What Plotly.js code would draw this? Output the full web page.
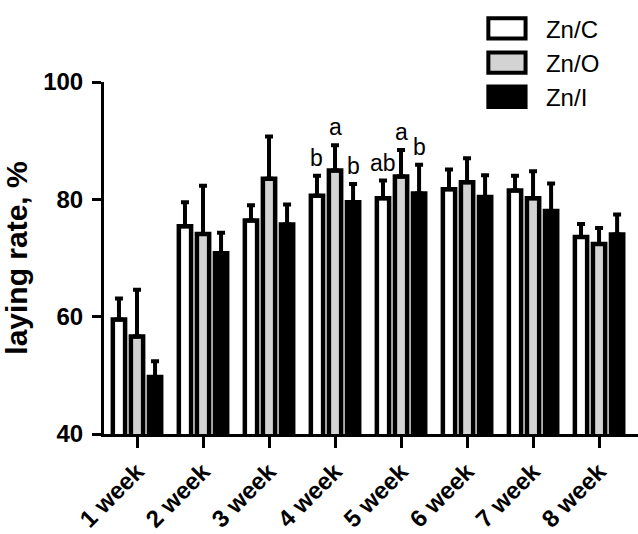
<!DOCTYPE html>
<html>
<head>
<meta charset="utf-8">
<script src="https://cdn.plot.ly/plotly-3.0.1.min.js"></script>
<style>html,body{margin:0;padding:0;background:#fff;}#chart{width:638px;height:534px;}</style>
</head>
<body>
<div id="chart"></div>
<script>
const weeks = ["1 week","2 week","3 week","4 week","5 week","6 week","7 week","8 week"];
const seriesNames = ["Zn/C","Zn/O","Zn/I"];
const znC = [59.5, 75.4, 76.4, 80.6, 80.2, 81.7, 81.5, 73.6];
const znO = [56.6, 74.1, 83.5, 84.9, 83.9, 82.9, 80.2, 72.4];
const znI = [49.7, 70.8, 75.7, 79.5, 81.0, 80.4, 78.0, 74.0];
const errC = [3.6, 4.1, 2.6, 3.4, 3.0, 3.4, 2.5, 2.2];
const errO = [8.0, 8.2, 7.2, 4.3, 4.5, 4.1, 4.6, 2.7];
const errI = [2.7, 3.5, 3.4, 3.1, 4.9, 3.7, 4.7, 3.4];
// significance letters: week index, series index, letter
const sigWeek = [3, 3, 3, 4, 4, 4];
const sigSeries = [0, 1, 2, 0, 1, 2];
const sigText = ["b", "a", "b", "ab", "a", "b"];

const fills = ["#ffffff", "#d3d3d3", "#000000"];
const vals = [znC, znO, znI];
const errs = [errC, errO, errI];
const FONT = "Liberation Sans, Arial, sans-serif";

const traces = vals.map((v, i) => ({
  type: "bar",
  name: seriesNames[i],
  x: weeks,
  y: v,
  marker: {color: fills[i], line: {color: "#000", width: 4.5}},
  error_y: {type: "data", symmetric: false, array: errs[i], arrayminus: v.map(() => 0),
            color: "#000", thickness: 4, width: 4},
  hoverinfo: "x+y"
}));

const bargap = 0.18, groupgap = 0.32;
const slot = (1 - bargap) / 3;
const annotations = sigText.map((t, k) => {
  const w = sigWeek[k], s = sigSeries[k];
  return {
    xref: "x", yref: "y",
    x: w + (s - 1) * slot,
    y: vals[s][w] + errs[s][w],
    text: t, showarrow: false, yanchor: "bottom", yshift: 3,
    font: {family: FONT, size: 23, color: "#000"}
  };
});

const layout = {
  width: 638, height: 534,
  margin: {l: 104, r: 0, t: 82, b: 100},
  paper_bgcolor: "#fff", plot_bgcolor: "#fff",
  barmode: "group", bargap: bargap, bargroupgap: groupgap,
  showlegend: true,
  legend: {x: 0.734, y: 1.215, xanchor: "left", yanchor: "top", xref: "paper", yref: "paper",
           font: {family: FONT, size: 24, color: "#000"}, itemwidth: 40,
           bgcolor: "rgba(0,0,0,0)"},
  xaxis: {
    type: "category", range: [-0.5, 7.59],
    showline: true, linecolor: "#000", linewidth: 3,
    ticks: "outside", ticklen: 11, tickwidth: 3, tickcolor: "#000",
    tickangle: -45, showgrid: false, zeroline: false,
    tickfont: {family: FONT, size: 24, color: "#000", weight: "bold"}
  },
  yaxis: {
    range: [40, 100], tickvals: [40, 60, 80, 100],
    showline: true, linecolor: "#000", linewidth: 3,
    ticks: "outside", ticklen: 9, tickwidth: 3, tickcolor: "#000",
    ticklabelstandoff: 4,
    showgrid: false, zeroline: false,
    tickfont: {family: FONT, size: 24, color: "#000", weight: "bold"},
    title: {text: "laying rate, %", standoff: 10,
            font: {family: FONT, size: 30, color: "#000", weight: "bold"}}
  },
  annotations: annotations
};

Plotly.newPlot("chart", traces, layout, {displayModeBar: false, staticPlot: true}).then(() => {
  // let the legend swatches extend beyond the legend clip, and widen them like the original boxes
  document.querySelectorAll("#chart .legend .scrollbox").forEach(g => g.removeAttribute("clip-path"));
  document.querySelectorAll("#chart .legend").forEach(g => g.style.overflow = "visible");
  document.querySelectorAll("#chart .legend .legendpoints path").forEach(p => {
    p.setAttribute("transform", "translate(11,0) scale(3.1,1.7)");
    p.style.vectorEffect = "non-scaling-stroke";
    p.style.strokeWidth = "4px";
  });
});
</script>
</body>
</html>
